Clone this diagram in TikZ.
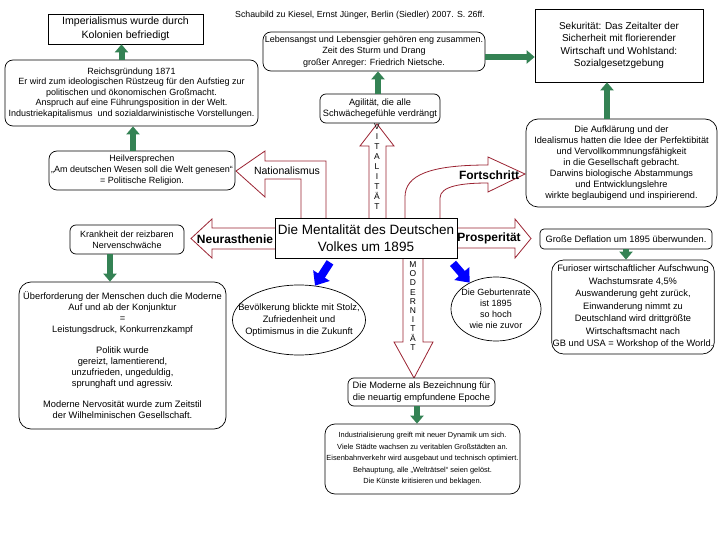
\documentclass[tikz,border=0pt]{standalone}
\usepackage{fontspec}
\setmainfont{Liberation Sans}
\usetikzlibrary{arrows.meta, shapes.geometric}

\definecolor{arrowgreen}{RGB}{52,130,84}
\definecolor{arrowred}{RGB}{155,35,50}
\newcommand{\fsz}[2]{\fontsize{#1}{#2}\selectfont}

\begin{document}
\begin{tikzpicture}[x=1pt, y=-1pt,
  every node/.style={font=\fsz{9}{11}, align=center, inner sep=1pt},
  box/.style={draw, fill=white, rectangle, line width=0.7pt},
  rbox/.style={box, rounded corners=8pt},
  ell/.style={draw, ellipse, line width=0.7pt, inner sep=0pt},
  garrow/.style={draw=arrowgreen, line width=6pt, -{Triangle[width=13pt,length=8pt]}},
  barrow/.style={draw=blue, line width=8pt, -{Triangle[width=19pt,length=12pt]}},
  redblock/.style={draw=arrowred, fill=white, line width=0.8pt, line join=miter},
  label/.style={font=\fsz{12}{14}\bfseries}]

\fill[white] (0,0) rectangle (720,540);
\useasboundingbox (0,0) rectangle (720,540);

% block arrows round the centre
\draw[redblock] (369,219) -- (369,146) -- (360,146) -- (377,124) -- (394,146) -- (386,146) -- (386,219) -- cycle;
\draw[redblock] (403,257) -- (403,342) -- (394,342) -- (414,378) -- (433,342) -- (423,342) -- (423,257) -- cycle;
\draw[redblock] (276,228) -- (212,228) -- (212,219) -- (191,238.5) -- (212,258) -- (212,249) -- (276,249) -- cycle;
\draw[redblock] (456,228) -- (515,228) -- (515,219) -- (531,238.5) -- (515,258) -- (515,248) -- (456,248) -- cycle;
\draw[redblock] (236,171) -- (265,151) -- (265,161) -- (326,161) -- (326,219) -- (301,219) -- (301,179) -- (265,179) -- (265,197) -- cycle;
\draw[redblock] (405,219) -- (405,197) .. controls (405,175) and (430,165) .. (488,165) -- (488,157) -- (525,174)
  -- (488,192) -- (488,183) .. controls (462,183) and (440,186) .. (440,198) -- (440,219) -- cycle;

\node (src) at (360,15) {\fsz{8.8}{11}Schaubild zu Kiesel, Ernst Jünger, Berlin (Siedler) 2007. S. 26ff.};

\node[box, minimum width=155pt, minimum height=30pt, font=\fsz{10.6}{13.5}] (imp) at (125.5,29) {Imperialismus wurde durch\\Kolonien befriedigt};
\node[rbox, minimum width=253pt, minimum height=66pt, font=\fsz{9}{10.5}] (reich) at (131.5,93) {Reichsgründung 1871\\Er wird zum ideologischen Rüstzeug für den Aufstieg zur\\politischen und ökonomischen Großmacht.\\Anspruch auf eine Führungsposition in der Welt.\\Industriekapitalismus~ und sozialdarwinistische Vorstellungen.};
\node[rbox, minimum width=186pt, minimum height=39pt] (heil) at (142,170.5) {Heilversprechen\\„Am deutschen Wesen soll die Welt genesen“\\= Politische Religion.};
\node[rbox, minimum width=222pt, minimum height=39pt, font=\fsz{9}{11.5}] (leben) at (374,51.5) {Lebensangst und Lebensgier gehören eng zusammen.\\Zeit des Sturm und Drang\\großer Anreger: Friedrich Nietsche.};
\node[box, minimum width=168pt, minimum height=73pt, font=\fsz{10}{12.5}] (seku) at (619,45.5) {Sekurität: Das Zeitalter der\\Sicherheit mit florierender\\Wirtschaft und Wohlstand:\\Sozialgesetzgebung};
\node[rbox, minimum width=120pt, minimum height=29pt, rounded corners=6pt, font=\fsz{9.2}{11.5}] (agil) at (380,108.5) {Agilität, die alle\\Schwächegefühle verdrängt};
\node[rbox, minimum width=191pt, minimum height=88pt, rounded corners=12pt, font=\fsz{9.2}{11}] (aufk) at (621.5,163) {Die Aufklärung und der\\Idealismus hatten die Idee der Perfektibität\\und Vervollkommnungsfähigkeit\\in die Gesellschaft gebracht.\\Darwins biologische Abstammungs\\und Entwicklungslehre\\wirkte beglaubigend und inspirierend.};
\node[rbox, minimum width=114pt, minimum height=29pt, rounded corners=6pt] (krank) at (127,239.5) {Krankheit der reizbaren\\Nervenschwäche};
\node[rbox, minimum width=207pt, minimum height=147pt, rounded corners=12pt, font=\fsz{9.3}{10.8}] (ueber) at (122.5,355.5) {Überforderung der Menschen duch die Moderne\\Auf und ab der Konjunktur\\=\\Leistungsdruck, Konkurrenzkampf\\[10.8pt]Politik wurde\\gereizt, lamentierend,\\unzufrieden, ungeduldig,\\sprunghaft und agressiv.\\[10.8pt]Moderne Nervosität wurde zum Zeitstil\\der Wilhelminischen Gesellschaft.};
\node[rbox, minimum width=172pt, minimum height=20pt, rounded corners=4pt, font=\fsz{9.3}{11}] (defl) at (626,239) {Große Deflation um 1895 überwunden.};
\node[rbox, minimum width=160pt, minimum height=94pt, rounded corners=12pt, font=\fsz{9.3}{12.5}] (furi) at (633,307) {Furioser wirtschaftlicher Aufschwung\\Wachstumsrate 4,5\%\\Auswanderung geht zurück,\\Einwanderung nimmt zu\\Deutschland wird drittgrößte\\Wirtschaftsmacht nach\\GB und USA = Workshop of the World.};
\node[ell, minimum width=133pt, minimum height=70pt] (bev) at (299,320) {};
\node[font=\fsz{9.3}{12}] (bevtext) at (bev) {Bevölkerung blickte mit Stolz,\\Zufriedenheit und\\Optimismus in die Zukunft};
\node[ell, minimum width=90pt, minimum height=64pt] (geb) at (496,309) {};
\node (gebtext) at (geb) {Die Geburtenrate\\ist 1895\\so hoch\\wie nie zuvor};
\node[rbox, minimum width=147pt, minimum height=28pt, rounded corners=6pt, font=\fsz{9.3}{12}] (mod) at (421.5,392) {Die Moderne als Bezeichnung für\\die neuartig empfundene Epoche};
\node[rbox, minimum width=195pt, minimum height=70pt, rounded corners=10pt, font=\fsz{7.4}{11.5}] (indu) at (422.5,459) {Industrialisierung greift mit neuer Dynamik um sich.\\Viele Städte wachsen zu veritablen Großstädten an.\\Eisenbahnverkehr wird ausgebaut und technisch optimiert.\\Behauptung, alle „Welträtsel“ seien gelöst.\\Die Künste kritisieren und beklagen.};

\node[box, minimum width=182pt, minimum height=40pt, inner sep=0pt, font=\fsz{13.5}{17}] (title) at (366,238) {Die Mentalität des Deutschen\\Volkes um 1895};

% texts in the block arrows
\node[label] (neur) at (235,239) {Neurasthenie};
\node[label] (prosp) at (489,238) {Prosperität};
\node[label] (forts) at (489,175) {Fortschritt};
\node[font=\fsz{10.5}{12}] (natio) at (287,171) {Nationalismus};
\node[font=\fsz{8.5}{10}] (vital) at (377,167) {V\\I\\T\\A\\L\\I\\T\\Ä\\T};
\node[font=\fsz{8.5}{9.2}] (modern) at (413,306) {M\\O\\D\\E\\R\\N\\I\\T\\Ä\\T};

% green arrows
\draw[garrow] ([xshift=-10pt]reich.north) -- ([xshift=-10pt]reich.north |- imp.south);
\draw[garrow] ([xshift=-9pt]heil.north) -- ([xshift=-9pt]heil.north |- reich.south);
\draw[garrow] ([xshift=-2pt]agil.north) -- ([xshift=-2pt]agil.north |- leben.south);
\draw[garrow] ([yshift=-5.5pt]leben.east) -- ([yshift=-5.5pt]leben.east -| seku.west);
\draw[garrow] ([xshift=-14.5pt]aufk.north) -- ([xshift=-14.5pt]aufk.north |- seku.south);
\draw[garrow] ([xshift=-17pt]krank.south) -- ([xshift=-17pt]krank.south |- ueber.north);
\draw[garrow] (defl.south) -- (defl.south |- furi.north);
\draw[garrow] ([xshift=-4.5pt]mod.south) -- ([xshift=-4.5pt]mod.south |- indu.north);

% blue arrows
\draw[barrow] ([xshift=-36pt,yshift=-4pt]title.south) -- (bev.65);
\draw[barrow] ([xshift=87pt,yshift=-5pt]title.south) -- (geb.135);
\end{tikzpicture}
\end{document}
